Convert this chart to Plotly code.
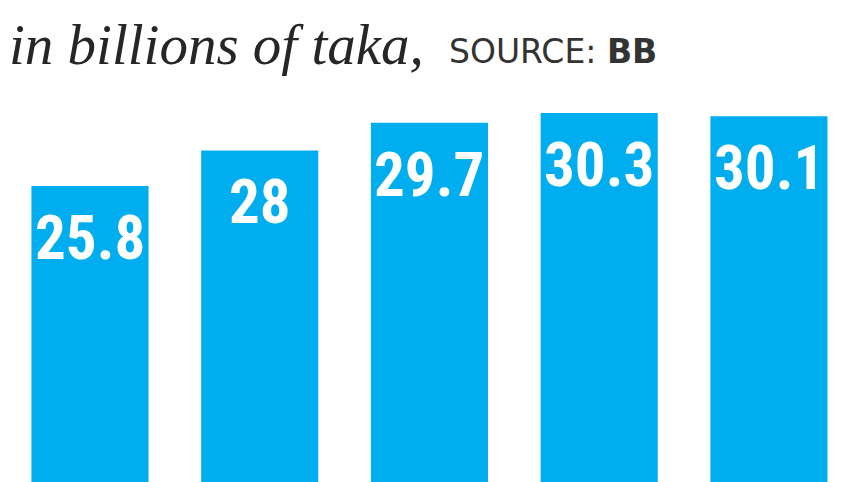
import plotly.graph_objects as go

categories = ["Bar A", "Bar B", "Bar C", "Bar D", "Bar E"]
values = [25.8, 28.0, 29.7, 30.3, 30.1]
value_labels = ["25.8", "28", "29.7", "30.3", "30.1"]

BAR = "#00AEEF"
W, H = 857, 482

fig = go.Figure()
fig.add_trace(go.Bar(x=categories, y=values, marker=dict(color=BAR, line=dict(width=0)),
                     width=0.69, hoverinfo="skip"))

for c, v, t in zip(categories, values, value_labels):
    fig.add_annotation(x=c, y=v, xref="x", yref="y", text=f"<b>{t}</b>", showarrow=False,
                       yanchor="top", yshift=-14,
                       font=dict(family="Liberation Sans Narrow, Roboto Condensed, Arial Narrow, Roboto, sans-serif",
                                 size=61, color="white"))

fig.add_annotation(x=-1 / W, y=1 - 37 / H, xref="paper", yref="paper", xanchor="left", yanchor="middle",
                   text="<i>in billions of taka,</i>", showarrow=False,
                   font=dict(family="Liberation Serif, DejaVu Serif, serif", size=57, color="#262626"))
fig.add_annotation(x=439 / W, y=1 - 43 / H, xref="paper", yref="paper", xanchor="left", yanchor="middle",
                   text="SOURCE: <b>BB</b>", showarrow=False,
                   font=dict(family="DejaVu Sans, sans-serif", size=33, color="#333333"))

fig.update_layout(
    width=W, height=H, margin=dict(l=0, r=0, t=0, b=0),
    paper_bgcolor="white", plot_bgcolor="white", showlegend=False,
    xaxis=dict(range=[-0.483, 4.566], visible=False, type="category"),
    yaxis=dict(range=[7.06, 36.78], visible=False),
)
fig.write_html("out.html")
